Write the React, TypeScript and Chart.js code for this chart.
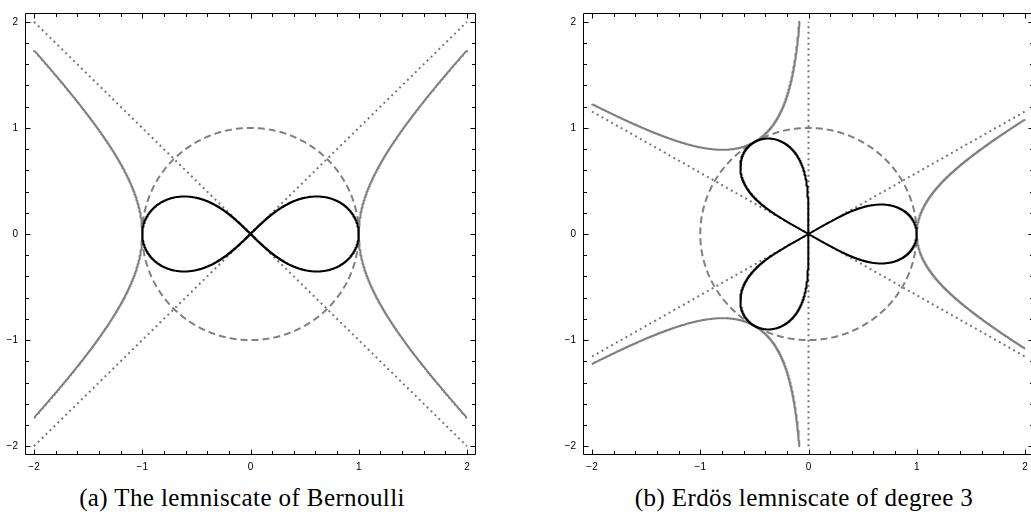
import React, { useEffect, useRef } from "react";
import { Chart, registerables } from "chart.js";

Chart.register(...registerables);

type Pt = { x: number; y: number };

// ---------- axes ----------
const AXIS_RANGE = [-2.0833, 2.0833];
const MAJOR_TICKS = [-2, -1, 0, 1, 2];
const MINOR_TICKS = [-1.8, -1.6, -1.4, -1.2, -0.8, -0.6, -0.4, -0.2, 0.2, 0.4, 0.6, 0.8, 1.2, 1.4, 1.6, 1.8];
const CLIP_BOX = 2;

// ---------- panel (a): lemniscate of Bernoulli (x²+y²)² = a²(x²−y²) ----------
const A_LEMNISCATE_A = 1;
const A_HYPERBOLA_A = 1; // inverse curve x² − y² = a²
const A_CIRCLE_R = 1;
const A_LINE_ANGLES_DEG = [45, -45];

// ---------- panel (b): Erdös lemniscate r^n = cos(nθ) ----------
const B_DEGREE = 3;
const B_CIRCLE_R = 1;
const B_LINE_ANGLES_DEG = [90, 30, -30];

const CAPTIONS = ["(a) The lemniscate of Bernoulli", "(b) Erdös lemniscate of degree 3"];

// ---------- styles ----------
const BLACK = "#000000";
const GRAY = "#808080";
const TICK_FONT = "'Liberation Sans', Arial, sans-serif";
const CAPTION_FONT = "'Liberation Serif', 'Times New Roman', serif";

// ---------- curve helpers ----------
function inside(p: Pt) {
  return Math.abs(p.x) <= CLIP_BOX && Math.abs(p.y) <= CLIP_BOX;
}
function boundaryPoint(p: Pt, q: Pt): Pt {
  let t = 1;
  const dx = q.x - p.x, dy = q.y - p.y;
  if (q.x > CLIP_BOX) t = Math.min(t, (CLIP_BOX - p.x) / dx);
  if (q.x < -CLIP_BOX) t = Math.min(t, (-CLIP_BOX - p.x) / dx);
  if (q.y > CLIP_BOX) t = Math.min(t, (CLIP_BOX - p.y) / dy);
  if (q.y < -CLIP_BOX) t = Math.min(t, (-CLIP_BOX - p.y) / dy);
  return { x: p.x + t * dx, y: p.y + t * dy };
}
function clipCurve(pts: Pt[]): Pt[] {
  const out: Pt[] = [];
  for (let i = 0; i < pts.length; i++) {
    const p = pts[i];
    if (!isFinite(p.x) || !isFinite(p.y)) continue;
    const prev = i > 0 ? pts[i - 1] : null;
    const pin = inside(p);
    const prevOk = prev && isFinite(prev.x) && isFinite(prev.y);
    if (pin) {
      if (prevOk && !inside(prev!)) out.push(boundaryPoint(p, prev!));
      out.push(p);
    } else if (prevOk && inside(prev!)) {
      out.push(boundaryPoint(prev!, p));
    }
  }
  return out;
}

function circle(r: number): Pt[] {
  const pts: Pt[] = [];
  const n = 720;
  for (let i = 0; i <= n; i++) {
    const t = (2 * Math.PI * i) / n;
    pts.push({ x: r * Math.cos(t), y: r * Math.sin(t) });
  }
  return pts;
}

function lineThroughOrigin(deg: number): Pt[] {
  const c = Math.cos((deg * Math.PI) / 180), s = Math.sin((deg * Math.PI) / 180);
  const R = Math.min(
    Math.abs(c) > 1e-9 ? CLIP_BOX / Math.abs(c) : Infinity,
    Math.abs(s) > 1e-9 ? CLIP_BOX / Math.abs(s) : Infinity
  );
  return [
    { x: -R * c, y: -R * s },
    { x: R * c, y: R * s },
  ];
}

function bernoulli(a: number): Pt[] {
  const pts: Pt[] = [];
  const n = 1440;
  for (let i = 0; i <= n; i++) {
    const t = (2 * Math.PI * i) / n;
    const s = Math.sin(t), c = Math.cos(t);
    const d = 1 + s * s;
    pts.push({ x: (a * c) / d, y: (a * s * c) / d });
  }
  return pts;
}

function hyperbolaBranch(a: number, sign: number): Pt[] {
  const pts: Pt[] = [];
  const n = 600;
  const U = Math.acosh(CLIP_BOX / a);
  for (let i = 0; i <= n; i++) {
    const u = -U + (2 * U * i) / n;
    pts.push({ x: sign * a * Math.cosh(u), y: a * Math.sinh(u) });
  }
  return clipCurve(pts);
}

function erdosLemniscate(n: number): Pt[] {
  const pts: Pt[] = [];
  const half = Math.PI / (2 * n);
  const m = 900;
  for (let k = 0; k < n; k++) {
    const phi = (2 * Math.PI * k) / n;
    for (let i = 0; i <= m; i++) {
      const th = phi - half + (2 * half * i) / m;
      const c = Math.max(0, Math.cos(n * th));
      const r = Math.pow(c, 1 / n);
      pts.push({ x: r * Math.cos(th), y: r * Math.sin(th) });
    }
  }
  return pts;
}

function erdosInverseBranch(n: number, k: number): Pt[] {
  const pts: Pt[] = [];
  const half = Math.PI / (2 * n);
  const phi = (2 * Math.PI * k) / n;
  const m = 6000;
  for (let i = 1; i < m; i++) {
    const th = phi - half + (2 * half * i) / m;
    const c = Math.cos(n * th);
    if (c <= 0) continue;
    const r = Math.pow(1 / c, 1 / n);
    pts.push({ x: r * Math.cos(th), y: r * Math.sin(th) });
  }
  return clipCurve(pts);
}

function ds(data: Pt[], color: string, width: number, dash: number[] = []) {
  return {
    data,
    showLine: true,
    borderColor: color,
    backgroundColor: color,
    borderWidth: width,
    borderDash: dash,
    borderCapStyle: "butt",
    borderJoinStyle: "round",
    pointRadius: 0,
    pointHoverRadius: 0,
    fill: false,
    tension: 0,
  };
}

const DOTTED = [2, 3.5];
const DASHED = [7, 4];

function panelADatasets() {
  return [
    ds(bernoulli(A_LEMNISCATE_A), BLACK, 2),
    ds(hyperbolaBranch(A_HYPERBOLA_A, 1), GRAY, 2),
    ds(hyperbolaBranch(A_HYPERBOLA_A, -1), GRAY, 2),
    ds(circle(A_CIRCLE_R), GRAY, 2, DASHED),
    ...A_LINE_ANGLES_DEG.map((d) => ds(lineThroughOrigin(d), "#787878", 2, DOTTED)),
  ];
}

function panelBDatasets() {
  const branches = [];
  for (let k = 0; k < B_DEGREE; k++) branches.push(ds(erdosInverseBranch(B_DEGREE, k), GRAY, 2));
  return [
    ds(erdosLemniscate(B_DEGREE), BLACK, 2),
    ...branches,
    ds(circle(B_CIRCLE_R), GRAY, 2, DASHED),
    ...B_LINE_ANGLES_DEG.map((d) => ds(lineThroughOrigin(d), "#787878", 2, DOTTED)),
  ];
}

function fmt(v: number) {
  return v < 0 ? "\u2212" + Math.abs(v) : String(v);
}

const framePlugin = {
  id: "frameTicks",
  afterDraw(chart: any) {
    const { ctx, chartArea: ca, scales } = chart;
    const xs = scales.x, ys = scales.y;
    const L = Math.round(ca.left) + 0.5, R = Math.round(ca.right) - 0.5;
    const T = Math.round(ca.top) + 0.5, B = Math.round(ca.bottom) - 0.5;
    ctx.save();
    ctx.strokeStyle = "#000";
    ctx.lineWidth = 1;
    ctx.setLineDash([]);
    ctx.beginPath();
    ctx.rect(L, T, R - L, B - T);
    ctx.stroke();
    const MAJ = 5, MIN = 3.5;
    ctx.beginPath();
    const draw = (v: number, len: number) => {
      const px = Math.round(xs.getPixelForValue(v)) + 0.5;
      ctx.moveTo(px, B); ctx.lineTo(px, B - len);
      ctx.moveTo(px, T); ctx.lineTo(px, T + len);
      const py = Math.round(ys.getPixelForValue(v)) + 0.5;
      ctx.moveTo(L, py); ctx.lineTo(L + len, py);
      ctx.moveTo(R, py); ctx.lineTo(R - len, py);
    };
    MAJOR_TICKS.forEach((v) => draw(v, MAJ));
    MINOR_TICKS.forEach((v) => draw(v, MIN));
    ctx.stroke();
    ctx.restore();
  },
};

const CANVAS_W = 520;
const CANVAS_H = 482;

function makeConfig(datasets: any[]): any {
  const tickCommon = {
    autoSkip: false,
    maxRotation: 0,
    color: "#000",
    font: { family: TICK_FONT, size: 10 },
    callback: (v: any) => fmt(Number(v)),
  };
  return {
    type: "scatter",
    data: { datasets },
    options: {
      animation: false,
      responsive: false,
      maintainAspectRatio: false,
      events: [],
      layout: { padding: { left: 0, top: 4, right: CANVAS_W - 476, bottom: 0 } },
      plugins: { legend: { display: false }, tooltip: { enabled: false }, title: { display: false } },
      scales: {
        x: {
          type: "linear",
          min: AXIS_RANGE[0],
          max: AXIS_RANGE[1],
          grid: { display: false, drawTicks: false },
          border: { display: false },
          afterBuildTicks: (s: any) => {
            s.ticks = MAJOR_TICKS.map((v) => ({ value: v }));
          },
          afterFit: (s: any) => {
            s.height = CANVAS_H - 455;
          },
          ticks: { ...tickCommon, padding: 6 },
        },
        y: {
          type: "linear",
          min: AXIS_RANGE[0],
          max: AXIS_RANGE[1],
          grid: { display: false, drawTicks: false },
          border: { display: false },
          afterBuildTicks: (s: any) => {
            s.ticks = MAJOR_TICKS.map((v) => ({ value: v }));
          },
          afterFit: (s: any) => {
            s.width = 25;
          },
          ticks: { ...tickCommon, padding: 7 },
        },
      },
    },
    plugins: [framePlugin],
  };
}

function Panel({ datasets, left }: { datasets: () => any[]; left: number }) {
  const ref = useRef<HTMLCanvasElement>(null);
  useEffect(() => {
    const chart = new Chart(ref.current as HTMLCanvasElement, makeConfig(datasets()));
    return () => chart.destroy();
  }, []);
  return (
    <canvas
      ref={ref}
      width={CANVAS_W}
      height={CANVAS_H}
      style={{ position: "absolute", left, top: 0, width: CANVAS_W, height: CANVAS_H }}
    />
  );
}

function Caption({ text, center }: { text: string; center: number }) {
  return (
    <div
      style={{
        position: "absolute",
        left: center - 250,
        width: 500,
        top: 485,
        textAlign: "center",
        fontFamily: CAPTION_FONT,
        fontSize: 25,
        lineHeight: "25px",
        letterSpacing: "0.4px",
        color: "#000",
        whiteSpace: "pre",
      }}
    >
      {text}
    </div>
  );
}

export default function App() {
  return (
    <div
      style={{
        position: "absolute",
        left: 0,
        top: 0,
        width: 1031,
        height: 515,
        overflow: "hidden",
        background: "#fff",
      }}
    >
      <Panel datasets={panelADatasets} left={0} />
      <Panel datasets={panelBDatasets} left={558} />
      <Caption text={CAPTIONS[0]} center={242} />
      <Caption text={CAPTIONS[1]} center={804} />
    </div>
  );
}
